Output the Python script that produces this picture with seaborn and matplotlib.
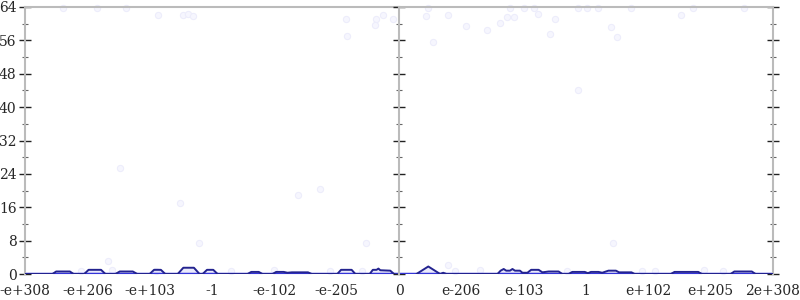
import matplotlib
matplotlib.use("Agg")
import matplotlib.pyplot as plt
import seaborn as sns
import pandas as pd
from matplotlib.ticker import MultipleLocator

sns.set_theme(style="white")
plt.rcParams['font.family'] = ['DejaVu Serif']

# x positions are in "tick units": -6 (=-e+308) ... 0 ... 6 (=2e+308)
tick_labels_left = ['-e+308', '-e+206', '-e+103', '-1', '-e-102', '-e-205', '0']
tick_labels_right = ['e-206', 'e-103', '1', 'e+102', 'e+205', '2e+308']

curve_x = [-6.00,
           -5.56, -5.50, -5.28, -5.22,
           -5.05, -4.98, -4.78, -4.71,
           -4.55, -4.48, -4.27, -4.20,
           -4.00, -3.93, -3.82, -3.75,
           -3.55, -3.46, -3.29, -3.20,
           -3.15, -3.08, -2.98, -2.91,
           -2.43, -2.37, -2.25, -2.19,
           -2.03, -1.97, -1.85, -1.79, -1.72, -1.46, -1.40,
           -0.99, -0.93, -0.76, -0.70,
           -0.47, -0.42, -0.36, -0.33, -0.30, -0.14, -0.08,
           0.28, 0.47, 0.66, 0.71, 0.76,
           1.58, 1.63, 1.68, 1.72, 1.78, 1.82, 1.86, 1.94, 1.98, 2.06, 2.12, 2.24, 2.30, 2.40, 2.56, 2.62,
           2.72, 2.78, 2.98, 3.03, 3.08, 3.20, 3.26, 3.36, 3.48, 3.53, 3.73, 3.78,
           4.36, 4.42, 4.80, 4.86,
           5.32, 5.38, 5.66, 5.72,
           6.00]
curve_y = [0,
           0, 0.6, 0.6, 0,
           0, 1.0, 1.0, 0,
           0, 0.6, 0.6, 0,
           0, 1.0, 1.0, 0,
           0, 1.5, 1.5, 0,
           0, 1.0, 1.0, 0,
           0, 0.5, 0.5, 0,
           0, 0.5, 0.5, 0.3, 0.4, 0.4, 0,
           0, 1.0, 1.0, 0,
           0, 1.0, 1.0, 1.3, 0.9, 0.8, 0,
           0, 1.8, 0, 0.3, 0,
           0, 0.8, 1.2, 0.8, 0.8, 1.2, 0.8, 0.8, 0.3, 0.3, 1.0, 1.0, 0.4, 0.6, 0.6, 0,
           0, 0.5, 0.5, 0.2, 0.5, 0.5, 0.3, 0.8, 0.8, 0.4, 0.4, 0,
           0, 0.5, 0.5, 0,
           0, 0.6, 0.6, 0,
           0]

pts_x = [-5.39, -4.85, -4.38, -3.87, -3.47, -3.39, -3.31, -0.85, -0.37, -0.26, -0.39, -0.83,
         -0.10, 0.43, 0.47, 0.79, 0.55, 1.07, 1.41, 1.62, 1.73, 1.85, 1.78, 2.01, 2.17, 2.23,
         2.50, 2.42, 2.87, 3.02, 3.19, 3.40, 3.50, 2.87, 3.72, 4.52, 4.72, 5.54,
         -4.48, -3.51, -3.21, -1.62, -1.27, -0.53, 3.43, -4.67, 0.79,
         -5.1, -4.6, -3.9, -2.7, -2.0, -1.1, -0.6, 0.9, 1.3, 2.7, 3.9, 4.1, 4.9, 5.2]
pts_y = [63.8, 63.8, 63.8, 62.1, 62.1, 62.3, 61.8, 61.1, 61.1, 62.1, 59.7, 57.0,
         61.1, 61.8, 63.8, 62.1, 55.6, 59.4, 58.5, 60.2, 61.6, 61.6, 63.8, 63.8, 63.8, 62.3,
         61.1, 57.5, 63.8, 63.8, 63.8, 59.2, 56.8, 44.1, 63.8, 62.1, 63.8, 63.8,
         25.4, 17.0, 7.4, 18.9, 20.4, 7.4, 7.4, 3.1, 2.2,
         0.8, 0.9, 0.7, 0.8, 0.9, 0.8, 0.7, 0.8, 0.9, 0.8, 0.7, 0.8, 0.9, 0.8]

curve = pd.DataFrame({'x': curve_x, 'y': curve_y})
pts = pd.DataFrame({'x': pts_x, 'y': pts_y})

fig, (axl, axr) = plt.subplots(1, 2, figsize=(8, 3), dpi=100, sharey=True)
fig.subplots_adjust(left=25/800, right=773/800, bottom=1-274/300, top=1-7/300, wspace=0)

spine_col = '#bbbbbb'
for ax, lo, hi in ((axl, -6, 0), (axr, 0, 6)):
    sub_p = pts[(pts.x >= lo) & (pts.x <= hi)]
    sns.scatterplot(data=sub_p, x='x', y='y', ax=ax, s=20, color='#f6f6fe',
                    edgecolor='#ededfb', linewidth=0.8, zorder=1, clip_on=False)
    sub_c = curve[(curve.x >= lo) & (curve.x <= hi)]
    ax.fill_between(sub_c.x, 0, sub_c.y, color='#8c8cf0', alpha=0.18, lw=0, zorder=2)
    ax.axhline(0, color='#3434d8', lw=2.5, zorder=2)
    sns.lineplot(data=sub_c, x='x', y='y', ax=ax, color='#23238f', lw=1.4,
                 estimator=None, sort=False, zorder=3)
    ax.set_xlim(lo, hi)
    ax.set_ylim(0, 64)
    ax.set_xlabel('')
    ax.set_ylabel('')
    ax.yaxis.set_major_locator(MultipleLocator(8))
    ax.yaxis.set_minor_locator(MultipleLocator(4))
    for s in ax.spines.values():
        s.set_color(spine_col)
        s.set_linewidth(1.5)
    ax.spines['bottom'].set_visible(False)
    ax.tick_params(axis='both', which='major', direction='inout', length=8, width=1,
                   color='#222222', labelsize=10, pad=2)
    ax.tick_params(axis='y', which='minor', direction='inout', length=5, width=0.8,
                   color='#666666')
    ax.tick_params(axis='x', which='major', length=11)

axl.spines['right'].set_visible(False)
axl.set_xticks([-6, -5, -4, -3, -2, -1, 0])
axl.set_xticklabels(tick_labels_left)
axl.tick_params(axis='y', which='both', left=True, right=False)

axr.set_xticks([1, 2, 3, 4, 5, 6])
axr.set_xticklabels(tick_labels_right)
axr.tick_params(axis='y', which='both', left=True, right=True, labelleft=False)

fig.savefig('out.png', dpi=100, facecolor='white')
